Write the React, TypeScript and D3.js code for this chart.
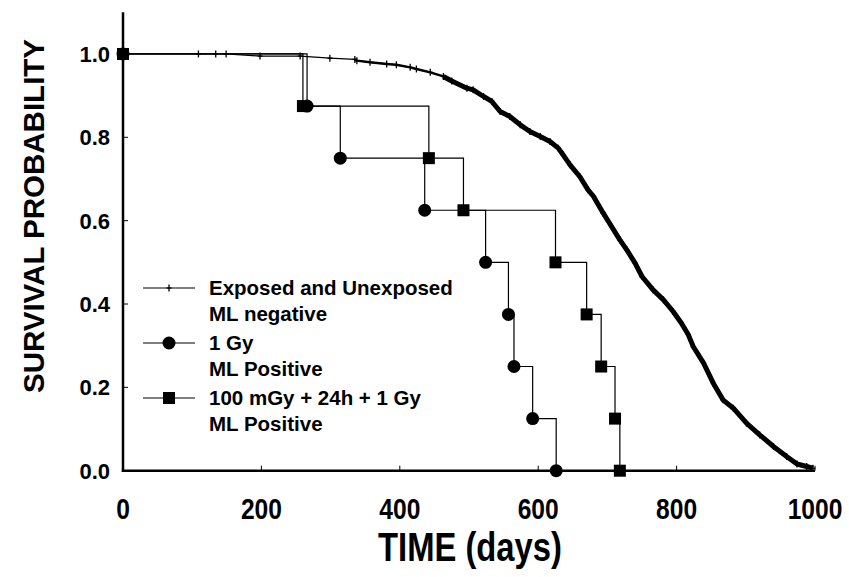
import React from "react";
import * as d3 from "d3";

// Exposed and Unexposed, ML negative (Kaplan-Meier)
const kmDays = [0, 109, 134, 149, 198, 256, 299, 335, 338, 357, 381, 395, 415, 424, 444, 463, 475, 497, 506, 521, 533, 545, 559, 574, 588, 603, 617, 629, 636, 646, 660, 672, 680, 694, 706, 718, 728, 740, 750, 766, 781, 795, 807, 817, 824, 839, 853, 867, 882, 901, 920, 940, 959, 974, 988, 997];
const kmSurv = [1.0, 1.0, 1.0, 1.0, 0.995, 0.995, 0.99, 0.987, 0.984, 0.98, 0.976, 0.974, 0.968, 0.964, 0.956, 0.946, 0.935, 0.918, 0.914, 0.898, 0.886, 0.862, 0.85, 0.83, 0.814, 0.802, 0.79, 0.774, 0.758, 0.734, 0.706, 0.674, 0.658, 0.618, 0.586, 0.554, 0.53, 0.498, 0.466, 0.434, 0.41, 0.382, 0.354, 0.326, 0.298, 0.258, 0.21, 0.17, 0.15, 0.114, 0.086, 0.058, 0.034, 0.016, 0.01, 0.006];

// 1 Gy, ML Positive
const gyDays = [0, 266, 314, 436, 524, 557, 565, 592, 626];
const gySurv = [1, 0.875, 0.75, 0.625, 0.5, 0.375, 0.25, 0.125, 0];

// 100 mGy + 24h + 1 Gy, ML Positive
const comboDays = [0, 260, 442, 492, 625, 670, 691, 711, 718];
const comboSurv = [1, 0.875, 0.75, 0.625, 0.5, 0.375, 0.25, 0.125, 0];

const xTicks = [0, 200, 400, 600, 800, 1000];
const yTicks = [0, 0.2, 0.4, 0.6, 0.8, 1.0];

const legendItems = [
  { lines: ["Exposed and Unexposed", "ML negative"], marker: "plus" },
  { lines: ["1 Gy", "ML Positive"], marker: "circle" },
  { lines: ["100 mGy + 24h + 1 Gy", "ML Positive"], marker: "square" },
];

const W = 849;
const H = 577;
const font = "'Liberation Sans', Arial, sans-serif";
const narrowScale = 0.82; // Arial Narrow look-alike

export default function App() {
  const x = d3.scaleLinear().domain([0, 1000]).range([123, 815]);
  const y = d3.scaleLinear().domain([0, 1.1]).range([470.7, 12.3]);

  const km = kmDays.map((d, i) => [d, kmSurv[i]] as [number, number]);
  const gy = gyDays.map((d, i) => [d, gySurv[i]] as [number, number]);
  const combo = comboDays.map((d, i) => [d, comboSurv[i]] as [number, number]);

  const kmLine = d3.line<[number, number]>().x((d) => x(d[0])).y((d) => y(d[1]));
  const stepLine = d3
    .line<[number, number]>()
    .x((d) => x(d[0]))
    .y((d) => y(d[1]))
    .curve(d3.curveStepAfter);

  // thicker where censoring marks are dense in the original
  const kmMid = km.filter((d) => d[0] >= 330 && d[0] <= 470);
  const kmDense = km.filter((d) => d[0] >= 463);

  const plus = (cx: number, cy: number, key: string | number) => (
    <g key={key} stroke="#000" strokeWidth={1.3}>
      <line x1={cx} x2={cx} y1={cy - 3.5} y2={cy + 3.5} />
      <line x1={cx - 2.5} x2={cx + 2.5} y1={cy} y2={cy} />
    </g>
  );

  const legX = 143;
  const legY = 288;
  const legStep = 55;

  return (
    <svg width={W} height={H} style={{ position: "absolute", left: 0, top: 0, background: "#fff" }}>
      {/* step curves */}
      <path d={stepLine(gy) ?? ""} fill="none" stroke="#000" strokeWidth={1.2} />
      <path d={stepLine(combo) ?? ""} fill="none" stroke="#000" strokeWidth={1.2} />

      {/* KM curve */}
      <path d={kmLine(km) ?? ""} fill="none" stroke="#000" strokeWidth={1.3} />
      <path d={kmLine(kmMid) ?? ""} fill="none" stroke="#000" strokeWidth={2.4} />
      <path d={kmLine(kmDense) ?? ""} fill="none" stroke="#000" strokeWidth={5} strokeLinejoin="round" />
      {km.slice(1).map((d, i) => plus(x(d[0]), y(d[1]), "k" + i))}

      {/* markers */}
      {gy.map((d, i) => (
        <circle key={"c" + i} cx={x(d[0])} cy={y(d[1])} r={6.5} fill="#000" />
      ))}
      {combo.map((d, i) => (
        <rect key={"s" + i} x={x(d[0]) - 6} y={y(d[1]) - 6} width={12} height={12} fill="#000" />
      ))}

      {/* axes */}
      <line x1={x(0)} x2={x(0)} y1={y(1.1)} y2={y(0) + 1.2} stroke="#000" strokeWidth={2.5} />
      <line x1={x(0) - 1.2} x2={x(1000)} y1={y(0)} y2={y(0)} stroke="#000" strokeWidth={2.5} />
      {yTicks.map((t) => (
        <g key={"yt" + t}>
          <line x1={x(0)} x2={x(0) + 5} y1={y(t)} y2={y(t)} stroke="#000" strokeWidth={1} />
          <text x={110} y={y(t)} dy="0.36em" textAnchor="end" fontFamily={font} fontWeight="bold" fontSize={22}>
            {t.toFixed(1)}
          </text>
        </g>
      ))}
      {xTicks.map((t) => (
        <g key={"xt" + t}>
          <line x1={x(t)} x2={x(t)} y1={y(0)} y2={y(0) - 5} stroke="#000" strokeWidth={1} />
          <text
            transform={`translate(${x(t)},519) scale(${narrowScale},1)`}
            textAnchor="middle"
            fontFamily={font}
            fontWeight="bold"
            fontSize={30}
          >
            {t}
          </text>
        </g>
      ))}

      {/* axis titles */}
      <text
        transform={`translate(470,561) scale(${narrowScale},1)`}
        textAnchor="middle"
        fontFamily={font}
        fontWeight="bold"
        fontSize={40}
      >
        TIME (days)
      </text>
      <text
        transform={`translate(44,216) rotate(-90)`}
        textAnchor="middle"
        fontFamily={font}
        fontWeight="bold"
        fontSize={29.5}
      >
        SURVIVAL PROBABILITY
      </text>

      {/* legend */}
      {legendItems.map((item, i) => {
        const ly = legY + i * legStep;
        const mx = legX + 26;
        return (
          <g key={"lg" + i}>
            <line x1={legX} x2={legX + 52} y1={ly} y2={ly} stroke="#000" strokeWidth={1.2} />
            {item.marker === "plus" && plus(mx, ly, "lp")}
            {item.marker === "circle" && <circle cx={mx} cy={ly} r={6.5} fill="#000" />}
            {item.marker === "square" && <rect x={mx - 6} y={ly - 6} width={12} height={12} fill="#000" />}
            {item.lines.map((s, j) => (
              <text key={j} x={209} y={ly + 7 + j * 26} fontFamily={font} fontWeight="bold" fontSize={20.5}>
                {s}
              </text>
            ))}
          </g>
        );
      })}
    </svg>
  );
}
